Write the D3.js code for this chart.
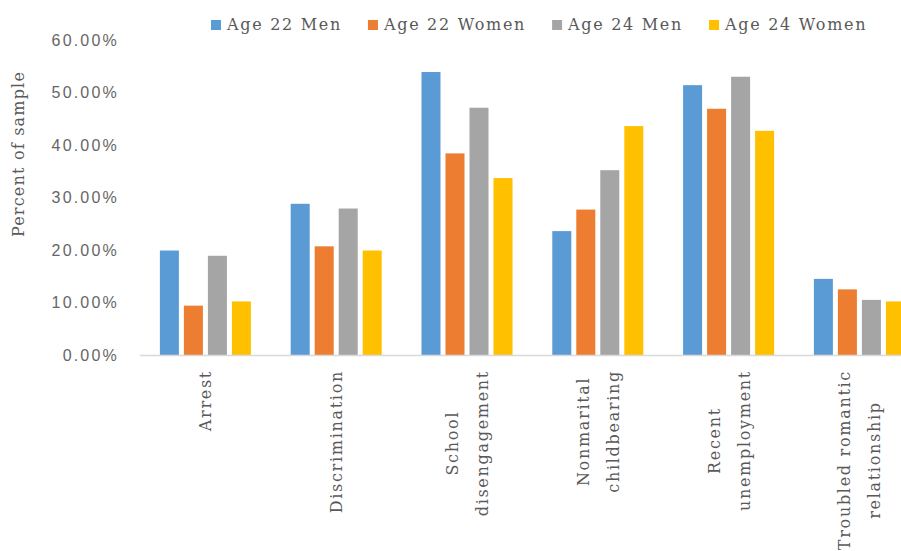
<!DOCTYPE html>
<html>
<head>
<meta charset="utf-8">
<script src="https://cdn.jsdelivr.net/npm/d3@7"></script>
<style>
  body { margin: 0; background: #fff; }
  svg { display: block; }
  .serif { font-family: "DejaVu Serif", serif; fill: #595959; }
</style>
</head>
<body>
<div id="chart"></div>
<script>
"use strict"

const categories = ["Arrest", "Discrimination", "School disengagement", "Nonmarital childbearing", "Recent unemployment", "Troubled romantic relationship"];
// label lines as they wrap in the picture
const categoryLines = [
  ["Arrest"],
  ["Discrimination"],
  ["School", "disengagement"],
  ["Nonmarital", "childbearing"],
  ["Recent", "unemployment"],
  ["Troubled romantic", "relationship"]
];
const seriesNames = ["Age 22 Men", "Age 22 Women", "Age 24 Men", "Age 24 Women"];
const age22Men   = [0.199, 0.288, 0.539, 0.236, 0.514, 0.145];
const age22Women = [0.094, 0.207, 0.384, 0.277, 0.469, 0.125];
const age24Men   = [0.189, 0.279, 0.471, 0.352, 0.530, 0.105];
const age24Women = [0.102, 0.199, 0.337, 0.436, 0.427, 0.102];
const yTicks = [0, 0.1, 0.2, 0.3, 0.4, 0.5, 0.6];
const seriesColors = ["#5b9bd5", "#ed7d31", "#a5a5a5", "#ffc000"];

const seriesValues = [age22Men, age22Women, age24Men, age24Women];

let width = 901, height = 551;

let svg = d3.select("#chart")
  .append("svg")
  .attr("width", width)
  .attr("height", height);

let x0 = d3.scaleBand()
  .domain(categories)
  .range([140, 924.8])
  .paddingInner(0.304)
  .paddingOuter(0.152);

let x1 = d3.scaleBand()
  .domain(seriesNames)
  .range([0, x0.bandwidth()])
  .paddingInner(0.208)
  .paddingOuter(0);

let y = d3.scaleLinear()
  .domain([0, 0.6])
  .range([355, 40]);

// y tick labels
let yAxis = svg.append("g")
  .attr("transform", "translate(119,0)")
  .call(d3.axisLeft(y).tickValues(yTicks).tickSize(0).tickPadding(0)
    .tickFormat(d => d3.format(".2%")(d)));
yAxis.select(".domain").remove();
yAxis.selectAll("text")
  .attr("fill", "#666")
  .style("font-family", "\"Liberation Sans\", sans-serif")
  .style("font-size", "16px")
  .style("letter-spacing", "2.2px");

// y title
svg.append("text")
  .attr("class", "serif")
  .attr("transform", "translate(24,154) rotate(-90)")
  .attr("text-anchor", "middle")
  .style("font-size", "16px")
  .style("letter-spacing", "1.2px")
  .text("Percent of sample");

// bars
let groups = svg.append("g")
  .selectAll("g")
  .data(categories)
  .join("g")
  .attr("transform", d => "translate(" + x0(d) + ",0)");

groups.selectAll("rect")
  .data((d, i) => seriesNames.map((s, j) => ({ series: s, value: seriesValues[j][i], color: seriesColors[j] })))
  .join("rect")
  .attr("x", d => x1(d.series))
  .attr("y", d => y(d.value))
  .attr("width", x1.bandwidth())
  .attr("height", d => y(0) - y(d.value))
  .attr("fill", d => d.color);

// baseline
svg.append("line")
  .attr("x1", 140).attr("x2", 924.8)
  .attr("y1", y(0) + 0.5).attr("y2", y(0) + 0.5)
  .attr("stroke", "#d9d9d9")
  .attr("stroke-width", 1.5);

// category labels, rotated
let lineGap = 30;
categories.forEach(function(c, i) {
  let lines = categoryLines[i];
  let cx = x0(c) + x0.bandwidth() / 2;
  let g = svg.append("g");
  let texts = g.selectAll("text")
    .data(lines)
    .join("text")
    .attr("class", "serif")
    .style("font-size", "16px")
    .style("letter-spacing", "1.7px")
    .attr("text-anchor", "middle")
    .text(d => d);
  let maxLen = d3.max(texts.nodes(), n => n.getComputedTextLength());
  let top = 370;
  texts.attr("transform", function(d, k) {
    let lx = cx - (lines.length - 1) * lineGap / 2 + k * lineGap + 6;
    return "translate(" + lx + "," + (top + maxLen / 2) + ") rotate(-90)";
  });
});

// legend
let legend = svg.append("g");
let lx = 211;
seriesNames.forEach(function(s, i) {
  legend.append("rect")
    .attr("x", lx).attr("y", 20)
    .attr("width", 10).attr("height", 10)
    .attr("fill", seriesColors[i]);
  let t = legend.append("text")
    .attr("class", "serif")
    .attr("x", lx + 16)
    .attr("y", 30)
    .style("font-size", "16px")
    .style("letter-spacing", "1.7px")
    .text(s);
  lx += 16 + t.node().getComputedTextLength() + 26;
});
</script>
</body>
</html>
